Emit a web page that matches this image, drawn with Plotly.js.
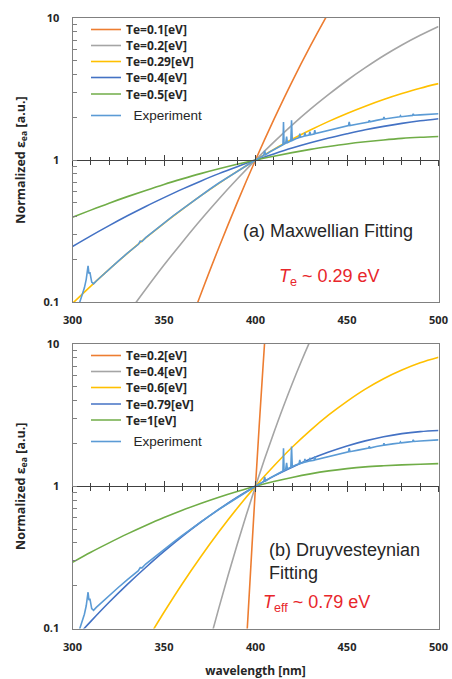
<!DOCTYPE html>
<html>
<head>
<meta charset="utf-8">
<script src="https://cdn.plot.ly/plotly-3.0.1.min.js"></script>
<style>html,body{margin:0;padding:0;background:#fff;}#chart{width:452px;height:679px;}</style>
</head>
<body>
<div id="chart"></div>
<script>
// ---------- data ----------
const wlFit = [300,310,320,330,340,350,360,370,380,390,400,410,420,430,440,450,460,470,480,490,500];

// (a) Maxwellian fitting
const wlMax01 = [360,370,380,390,400,410,420,430,440,450];
const maxTe01 = [0.0505,0.1125,0.2421,0.5012,1,1.923,3.565,6.353,10.94,18.2];
const wlMax02 = [330,340,350,360,370,380,390,400,410,420,430,440,450,460,470,480,490,500];
const maxTe02 = [0.0820,0.1230,0.182,0.264,0.378,0.532,0.735,1,1.337,1.762,2.280,2.897,3.631,4.467,5.420,6.457,7.551,8.710];
const maxTe029 = [0.0977,0.1294,0.1698,0.2198,0.2825,0.3581,0.4487,0.5585,0.6855,0.8318,1,1.1885,1.3996,1.6255,1.8707,2.1281,2.3933,2.6669,2.9376,3.2063,3.4514];
const maxTe04 = [0.2460,0.2924,0.3451,0.4046,0.4710,0.5433,0.6237,0.7096,0.8017,0.8974,1,1.1041,1.2134,1.3213,1.4289,1.5311,1.6331,1.7258,1.8113,1.8880,1.9543];
const maxTe05 = [0.3945,0.4436,0.4966,0.5521,0.6109,0.6730,0.7362,0.8017,0.8670,0.9333,1,1.0641,1.1272,1.1885,1.2445,1.2972,1.3428,1.3836,1.4191,1.4454,1.4655];

// (b) Druyvesteynian fitting
const wlDru02 = [394,396,398,400,402,404,406];
const druTe02 = [0.0468,0.1288,0.3631,1,2.630,6.607,16.22];
const wlDru04 = [370,375,380,385,390,395,400,405,410,415,420,425,430,435];
const druTe04 = [0.0463,0.0813,0.1396,0.2355,0.3890,0.6295,1,1.560,2.377,3.565,5.236,7.534,10.62,14.72];
const wlDru06 = [340,350,360,370,380,390,400,410,420,430,440,450,460,470,480,490,500];
const druTe06 = [0.0800,0.1300,0.2065,0.3184,0.4786,0.7015,1,1.387,1.879,2.472,3.170,3.954,4.819,5.702,6.561,7.379,8.072];
const druTe079 = [0.0813,0.1122,0.1528,0.2042,0.2685,0.3483,0.4446,0.5585,0.6887,0.8375,1,1.178,1.361,1.552,1.738,1.919,2.084,2.228,2.344,2.421,2.466];
const druTe1 = [0.2917,0.3436,0.3999,0.4624,0.5297,0.6026,0.6792,0.7568,0.8375,0.9183,1,1.079,1.153,1.222,1.282,1.330,1.368,1.393,1.413,1.429,1.442];

// Experiment
const expWl = [303.5,305,306.5,307.5,308,308.5,309,309.5,310.5,311.5,313,316,320,325,330,336,337,338,340,345,350,355,360,365,370,375,380,385,390,395,400,403,404.5,405,405.5,408,412,415,415.3,415.6,416.5,417,417.4,419.3,419.7,420.1,422,423.8,424.2,424.6,426.6,427,427.4,429.3,429.7,430.1,432,432.4,432.8,436,440,445,450.8,451.2,451.6,456,461.8,462.2,462.6,466,469.8,470.2,470.6,475,478.8,479.2,479.6,483,485.8,486.2,486.6,490,495,500];
const expVal = [0.0955,0.1096,0.1259,0.1445,0.1698,0.1799,0.1585,0.1622,0.1380,0.1343,0.1406,0.1528,0.1698,0.1941,0.2208,0.2547,0.2679,0.2667,0.2838,0.3199,0.3597,0.4036,0.4508,0.5035,0.5610,0.6223,0.6887,0.7586,0.8337,0.9141,1,1.052,1.079,1.161,1.091,1.143,1.219,1.279,1.849,1.294,1.312,1.462,1.324,1.361,1.901,1.374,1.413,1.439,1.531,1.445,1.472,1.556,1.479,1.500,1.585,1.507,1.524,1.622,1.535,1.570,1.614,1.675,1.746,1.854,1.750,1.795,1.854,1.905,1.858,1.901,1.941,2.009,1.945,1.986,2.014,2.051,2.018,2.042,2.061,2.118,2.065,2.080,2.099,2.118];

const namesMax = ['Te=0.1[eV]','Te=0.2[eV]','Te=0.29[eV]','Te=0.4[eV]','Te=0.5[eV]'];
const namesDru = ['Te=0.2[eV]','Te=0.4[eV]','Te=0.6[eV]','Te=0.79[eV]','Te=1[eV]'];
const expName = 'Experiment';

// ---------- styling ----------
const colors = ['#ED7D31','#A5A5A5','#FFC000','#4472C4','#70AD47'];
const expColor = '#5B9BD5';
const W = 452, H = 679;
const px = v => v / W;
const py = v => 1 - v / H;

function fit(x, y, name, i, xa, ya, lg) {
  return {x: x, y: y, name: name, type: 'scatter', mode: 'lines',
    xaxis: xa, yaxis: ya, legend: lg,
    line: {color: colors[i], width: 1.6, shape: 'spline', smoothing: 1}};
}
function expTrace(xa, ya, lg) {
  return {x: expWl, y: expVal, type: 'scatter', mode: 'lines', xaxis: xa, yaxis: ya, legend: lg,
    name: '<span style="font-family:Liberation Sans, Arial, sans-serif;font-weight:400;font-size:13.5px">\u00a0\u00a0' + expName + '</span>',
    line: {color: expColor, width: 1.6}};
}
// empty carriers so the crossing axes at y = 1 get a subplot and are drawn
function carrier(xa, ya) {
  return {x: [], y: [], type: 'scatter', mode: 'lines', xaxis: xa, yaxis: ya,
    showlegend: false, hoverinfo: 'skip'};
}

// one legend per entry so that entries keep the reference's tight spacing
const lgIds = ['legend','legend2','legend3','legend4','legend5','legend6',
               'legend7','legend8','legend9','legend10','legend11','legend12'];

const data = [
  fit(wlMax01, maxTe01, namesMax[0], 0, 'x', 'y', lgIds[0]),
  fit(wlMax02, maxTe02, namesMax[1], 1, 'x', 'y', lgIds[1]),
  fit(wlFit, maxTe029, namesMax[2], 2, 'x', 'y', lgIds[2]),
  fit(wlFit, maxTe04, namesMax[3], 3, 'x', 'y', lgIds[3]),
  fit(wlFit, maxTe05, namesMax[4], 4, 'x', 'y', lgIds[4]),
  expTrace('x', 'y', lgIds[5]),
  fit(wlDru02, druTe02, namesDru[0], 0, 'x2', 'y2', lgIds[6]),
  fit(wlDru04, druTe04, namesDru[1], 1, 'x2', 'y2', lgIds[7]),
  fit(wlDru06, druTe06, namesDru[2], 2, 'x2', 'y2', lgIds[8]),
  fit(wlFit, druTe079, namesDru[3], 3, 'x2', 'y2', lgIds[9]),
  fit(wlFit, druTe1, namesDru[4], 4, 'x2', 'y2', lgIds[10]),
  expTrace('x2', 'y2', lgIds[11]),
  carrier('x3', 'y'), carrier('x4', 'y'), carrier('x5', 'y2'), carrier('x6', 'y2')
];

const boldFont = {family: 'Open Sans, DejaVu Sans, sans-serif', size: 11, weight: 700, color: '#262626'};
const frame = '#808080';
const xDom = [px(72.5), px(438.5)];
const yDomA = [py(302), py(18)];
const yDomB = [py(628.5), py(344)];

function xBottom(anchor) {
  return {domain: xDom, anchor: anchor, range: [300, 500], showline: true, linecolor: frame, linewidth: 1,
    mirror: true, ticks: '', tickmode: 'array', tickvals: [300,350,400,450,500],
    tickfont: boldFont, showgrid: false, zeroline: false, ticklabelstandoff: 8};
}
function xMid(over, pos, dir) {
  return {overlaying: over, anchor: 'free', position: pos, range: [300, 500], showline: true,
    linecolor: '#404040', linewidth: 1, ticks: dir, ticklen: 5, tickcolor: '#404040', tickwidth: 1,
    tickmode: 'linear', tick0: 300, dtick: 50, showticklabels: false, showgrid: false, zeroline: false,
    minor: {ticks: dir, ticklen: 3.5, tickcolor: '#404040', tickwidth: 1, dtick: 10, tick0: 300, showgrid: false}};
}
function yAxis(dom, anchor) {
  return {domain: dom, anchor: anchor, type: 'log', range: [-1, 1], showline: true, linecolor: frame,
    linewidth: 1, mirror: true, tickmode: 'array', tickvals: [0.1, 1, 10], ticktext: ['0.1', '1', '10'],
    ticks: 'inside', ticklen: 4, tickcolor: frame, tickfont: boldFont, showgrid: false, zeroline: false,
    ticklabelstandoff: 10,
    minor: {ticks: 'inside', ticklen: 4, tickcolor: frame, tickmode: 'array',
      tickvals: [0.2,0.3,0.4,0.5,0.6,0.7,0.8,0.9,2,3,4,5,6,7,8,9], showgrid: false},
    title: {text: 'Normalized ε<sub>ea</sub> [a.u.]', standoff: 15,
      font: {family: 'Open Sans, DejaVu Sans, sans-serif', size: 12.5, weight: 700, color: '#262626'}}};
}

const legendBase = {bgcolor: 'rgba(0,0,0,0)', borderwidth: 0, xanchor: 'left', yanchor: 'middle',
  font: {family: 'Open Sans, DejaVu Sans, sans-serif', size: 12, weight: 700, color: '#262626'},
  tracegroupgap: 0, itemclick: false};
const legendRows = [29.5, 45.5, 61.5, 77.5, 94, 115.5, 355.5, 371.5, 387.5, 404, 420, 441.5];

const xb2 = xBottom('y2');
xb2.title = {text: 'wavelength [nm]', standoff: 14,
  font: {family: 'Open Sans, DejaVu Sans, sans-serif', size: 12, weight: 700, color: '#262626'}};

const annFont = {family: 'Liberation Sans, Arial, sans-serif', size: 18, color: '#262626'};
const redFont = {family: 'Liberation Sans, Arial, sans-serif', size: 18, color: '#E8262B'};

const layout = {
  width: W, height: H, margin: {l: 0, r: 0, t: 0, b: 0, autoexpand: false},
  paper_bgcolor: '#fff', plot_bgcolor: '#fff', showlegend: true,
  xaxis: xBottom('y'),
  yaxis: yAxis(yDomA, 'x'),
  xaxis2: xb2,
  yaxis2: yAxis(yDomB, 'x2'),
  xaxis3: xMid('x', py(160), 'inside'),
  xaxis4: xMid('x', py(160), 'outside'),
  xaxis5: xMid('x2', py(486), 'inside'),
  xaxis6: xMid('x2', py(486), 'outside'),
  annotations: [
    {xref: 'paper', yref: 'paper', x: px(328), y: py(231), text: '(a) Maxwellian Fitting',
      showarrow: false, font: annFont, xanchor: 'center', yanchor: 'middle'},
    {xref: 'paper', yref: 'paper', x: px(329), y: py(277), text: '<i>T</i><sub>e</sub> ~ 0.29 eV',
      showarrow: false, font: redFont, xanchor: 'center', yanchor: 'middle'},
    {xref: 'paper', yref: 'paper', x: px(267), y: py(561), text: '(b) Druyvesteynian<br>Fitting',
      showarrow: false, font: annFont, xanchor: 'left', yanchor: 'middle', align: 'left'},
    {xref: 'paper', yref: 'paper', x: px(261), y: py(603), text: '<i>T</i><sub>eff</sub> ~ 0.79 eV',
      showarrow: false, font: redFont, xanchor: 'left', yanchor: 'middle'}
  ]
};
lgIds.forEach((id, k) => {
  layout[id] = Object.assign({}, legendBase, {x: px(86), y: py(legendRows[k])});
});

Plotly.newPlot('chart', data, layout, {displayModeBar: false, staticPlot: true});
</script>
</body>
</html>
